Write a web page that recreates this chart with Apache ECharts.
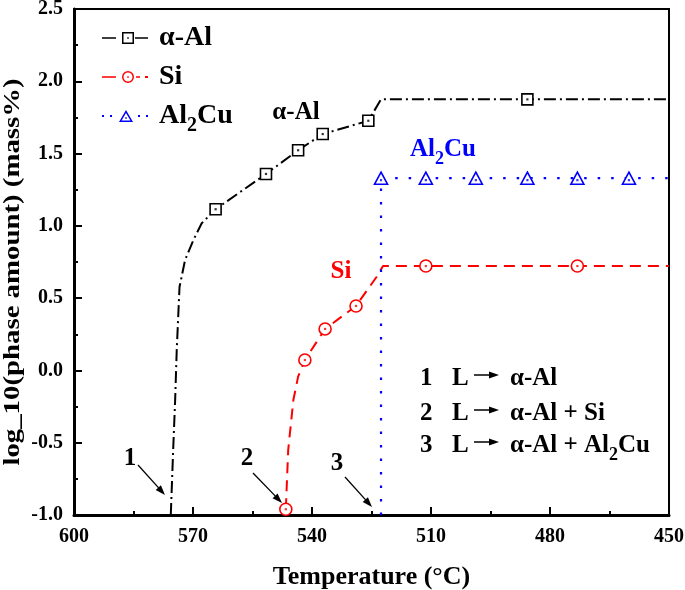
<!DOCTYPE html>
<html><head><meta charset="utf-8">
<script src="https://cdn.jsdelivr.net/npm/echarts@6/dist/echarts.min.js"></script>
<style>html,body{margin:0;padding:0;background:#fff}#c{width:685px;height:590px}</style>
</head><body><div id="c"></div>
<script>
// ---- data ----
const seriesNames = ['α-Al', 'Si', 'Al2Cu'];
const alAlTemp   = [575.6, 575.0, 574.5, 574.1, 573.4, 572.0, 569.9, 567.8, 564.3, 551.6, 543.5, 537.3, 525.8, 522.6, 485.7, 450];
const alAlValue  = [-1.0, -0.55, -0.205, 0.141, 0.577, 0.764, 0.902, 1.018, 1.115, 1.359, 1.523, 1.635, 1.727, 1.875, 1.875, 1.875];
const alAlMarker = [0, 0, 0, 0, 0, 0, 0, 0, 1, 1, 1, 1, 1, 0, 1, 0];
const siTemp     = [546.6, 546.0, 544.7, 543.5, 541.8, 536.7, 528.9, 523.7, 522.1, 511.3, 473.1, 450];
const siValue    = [-0.96, -0.55, -0.205, -0.043, 0.072, 0.287, 0.446, 0.648, 0.722, 0.722, 0.722, 0.722];
const siMarker   = [1, 0, 0, 0, 1, 1, 1, 0, 0, 1, 1, 0];
const al2cuTemp   = [522.6, 522.6, 511.3, 498.7, 485.7, 473.1, 460.1, 450];
const al2cuValue  = [-1.0, 1.33, 1.33, 1.33, 1.33, 1.33, 1.33, 1.33];
const al2cuMarker = [0, 1, 1, 1, 1, 1, 1, 0];
const xTickValues = [600, 570, 540, 510, 480, 450];
const yTickValues = [-1.0, -0.5, 0.0, 0.5, 1.0, 1.5, 2.0, 2.5];
const xTitle = 'Temperature (°C)';
const yTitle = 'log_10(phase amount) (mass%)';
const reactions = ['L', 'L', 'L'];
const reactionProducts = ['α-Al', 'α-Al + Si', 'α-Al + Al2Cu'];

// ---- styling ----
const F = 'Liberation Serif';
const BLACK = '#000', RED = '#ff0000', BLUE = '#0000ff';

function richFor(color, S) {
  const s = Math.round(S * 0.7);
  const L = Math.round(2 * (7 + 0.17 * s + 0.33 * S));
  return {
    a: { fontFamily: F, fontWeight: 'bold', fontSize: S, lineHeight: L, color: color, fill: color },
    sub: { fontFamily: F, fontWeight: 'bold', fontSize: s, lineHeight: s, verticalAlign: 'bottom', color: color, fill: color }
  };
}
function toRich(str) {
  return str.split('Al2Cu').map(p => p ? '{a|' + p + '}' : '').join('{a|Al}{sub|2}{a|Cu}');
}

function build(temps, vals, marks, sym) {
  return temps.map((t, i) => ({ value: [t, vals[i]], symbol: marks[i] ? sym : 'none' }));
}
function dots(temps, vals, marks) {
  const out = [];
  temps.forEach((t, i) => { if (marks[i]) out.push([t, vals[i]]); });
  return out;
}

const iconAlAl = 'path://M0,5.25H14V6.75H0Z M20,0H32V12H20Z M21.5,1.5V10.5H30.5V1.5Z M25.25,5.25H26.75V6.75H25.25Z M33,5.25H46V6.75H33Z';
const iconSi = 'path://M0,5.25H14V6.75H0Z M26,0A6,6 0 1,1 26,12A6,6 0 1,1 26,0Z M26,1.5A4.5,4.5 0 1,0 26,10.5A4.5,4.5 0 1,0 26,1.5Z M25.25,5.25H26.75V6.75H25.25Z M34,5.25H38V6.75H34Z M43,5H46V7H43Z';
const iconAl2Cu = 'path://M0,5H2V7H0Z M8,5H10V7H8Z M24,0L31,12L17,12Z M24,3L19.6,10.5L28.4,10.5Z M23.25,7.25H24.75V8.75H23.25Z M36,5H38V7H36Z M44,5H46V7H44Z';

function arrow(x1, y1, x2, y2, head, hw, lw) {
  const ang = Math.atan2(y2 - y1, x2 - x1);
  const bx = x2 - head * Math.cos(ang), by = y2 - head * Math.sin(ang);
  const px = -Math.sin(ang) * hw, py = Math.cos(ang) * hw;
  return [
    { type: 'line', silent: true, shape: { x1: x1, y1: y1, x2: bx + 0.5 * Math.cos(ang), y2: by + 0.5 * Math.sin(ang) }, style: { stroke: BLACK, lineWidth: lw } },
    { type: 'polygon', silent: true, shape: { points: [[x2, y2], [bx + px, by + py], [bx - px, by - py]] }, style: { fill: BLACK } }
  ];
}
function txt(x, y, text, color, size, align) {
  return { type: 'text', x: x, y: y, silent: true,
    style: { text: toRich(text), rich: richFor(color, size), fill: color, align: align || 'center', verticalAlign: 'middle', textAlign: align || 'center', textVerticalAlign: 'middle' } };
}

const graphics = [];
// y-axis title (slightly stretched along its length, as in the reference)
graphics.push({ type: 'text', x: 13, y: 272, rotation: Math.PI / 2, scaleX: 1.2, silent: true,
  style: { text: yTitle, fill: BLACK, fontFamily: F, fontWeight: 'bold', fontSize: 24, align: 'center', verticalAlign: 'middle', textAlign: 'center', textVerticalAlign: 'middle' } });
graphics.push(txt(296, 113, 'α-Al', BLACK, 25));
graphics.push(txt(443, 150, 'Al2Cu', BLUE, 25));
graphics.push(txt(341, 272, 'Si', RED, 25));
// numbered arrows
graphics.push(txt(130, 459, '1', BLACK, 25));
graphics.push(txt(247, 459, '2', BLACK, 25));
graphics.push(txt(337, 464, '3', BLACK, 25));
graphics.push(...arrow(138, 465, 165, 495, 10, 3.5, 1.3));
graphics.push(...arrow(253, 473, 282, 503, 10, 3.5, 1.3));
graphics.push(...arrow(345, 477, 372, 507, 10, 3.5, 1.3));
// reaction list
const rowY = [379, 414, 446];
reactionProducts.forEach((p, i) => {
  const y = rowY[i];
  graphics.push(txt(420, y, String(i + 1), BLACK, 25, 'left'));
  graphics.push(txt(452, y, reactions[i], BLACK, 25, 'left'));
  graphics.push(...arrow(474, y - 4, 499, y - 4, 10, 3.5, 1.5));
  graphics.push(txt(510, y, p, BLACK, 25, 'left'));
});

const axisText = { color: BLACK, fontFamily: F, fontWeight: 'bold', fontSize: 20 };
const legendRich = richFor(BLACK, 28);

const option = {
  animation: false,
  backgroundColor: '#fff',
  grid: { left: 74, right: 16, top: 9, bottom: 75, containLabel: false, outerBoundsMode: 'none',
          show: true, borderColor: BLACK, borderWidth: 2, backgroundColor: 'transparent' },
  xAxis: {
    type: 'value', inverse: true, min: 450, max: 600, interval: 30,
    axisLine: { show: true, onZero: false, lineStyle: { color: BLACK, width: 3 } },
    axisTick: { show: true, inside: true, length: 8, lineStyle: { color: BLACK, width: 2 } },
    minorTick: { show: true, splitNumber: 2, length: 4, lineStyle: { color: BLACK, width: 2 } },
    splitLine: { show: false }, minorSplitLine: { show: false },
    axisLabel: Object.assign({ margin: 12, formatter: v => xTickValues.includes(v) ? String(v) : '' }, axisText),
    name: xTitle, nameLocation: 'middle', nameGap: 49,
    nameTextStyle: { color: BLACK, fontFamily: F, fontWeight: 'bold', fontSize: 26 }
  },
  yAxis: {
    type: 'value', min: -1.0, max: 2.5, interval: 0.5,
    axisLine: { show: true, onZero: false, lineStyle: { color: BLACK, width: 3 } },
    axisTick: { show: true, inside: true, length: 8, lineStyle: { color: BLACK, width: 2 } },
    minorTick: { show: true, splitNumber: 2, length: 4, lineStyle: { color: BLACK, width: 2 } },
    splitLine: { show: false }, minorSplitLine: { show: false },
    axisLabel: Object.assign({ margin: 11, formatter: v => yTickValues.includes(v) ? v.toFixed(1) : '' }, axisText)
  },
  legend: {
    orient: 'vertical', left: 97, top: 19, itemWidth: 46, itemHeight: 12, itemGap: 11,
    selectedMode: false,
    data: [
      { name: seriesNames[0], icon: iconAlAl, itemStyle: { color: BLACK, borderWidth: 0 } },
      { name: seriesNames[1], icon: iconSi, itemStyle: { color: RED, borderWidth: 0 } },
      { name: seriesNames[2], icon: iconAl2Cu, itemStyle: { color: BLUE, borderWidth: 0 } }
    ],
    formatter: n => toRich(n),
    textStyle: { color: BLACK, fontFamily: F, fontWeight: 'bold', fontSize: 28, padding: [0, 0, 0, 6], rich: legendRich }
  },
  graphic: graphics,
  series: [
    { name: seriesNames[0], type: 'line', data: build(alAlTemp, alAlValue, alAlMarker, 'rect'), symbolSize: 11,
      showAllSymbol: true, z: 3,
      lineStyle: { color: BLACK, width: 2, type: [12, 4, 2, 4] },
      itemStyle: { color: '#fff', borderColor: BLACK, borderWidth: 1.6 } },
    { name: seriesNames[1], type: 'line', data: build(siTemp, siValue, siMarker, 'circle'), symbolSize: 12,
      showAllSymbol: true, z: 3,
      lineStyle: { color: RED, width: 2, type: [11, 7] },
      itemStyle: { color: '#fff', borderColor: RED, borderWidth: 1.6 } },
    { name: seriesNames[2], type: 'line', data: build(al2cuTemp, al2cuValue, al2cuMarker, 'triangle'), symbolSize: [13, 12],
      showAllSymbol: true, z: 3,
      lineStyle: { color: BLUE, width: 2.2, type: [2.5, 11] },
      itemStyle: { color: '#fff', borderColor: BLUE, borderWidth: 1.6 } },
    { name: 'dotsAlAl', type: 'scatter', data: dots(alAlTemp, alAlValue, alAlMarker), symbol: 'rect', symbolSize: 2.2, silent: true, z: 5, itemStyle: { color: BLACK } },
    { name: 'dotsSi', type: 'scatter', data: dots(siTemp, siValue, siMarker), symbol: 'rect', symbolSize: 2.2, silent: true, z: 5, itemStyle: { color: RED } },
    { name: 'dotsAl2Cu', type: 'scatter', data: dots(al2cuTemp, al2cuValue, al2cuMarker), symbol: 'rect', symbolSize: 2.2, symbolOffset: [0, 2], silent: true, z: 5, itemStyle: { color: BLUE } }
  ]
};
const chart = echarts.init(document.getElementById('c'), null, { renderer: 'canvas' });
chart.setOption(option);
</script></body></html>
